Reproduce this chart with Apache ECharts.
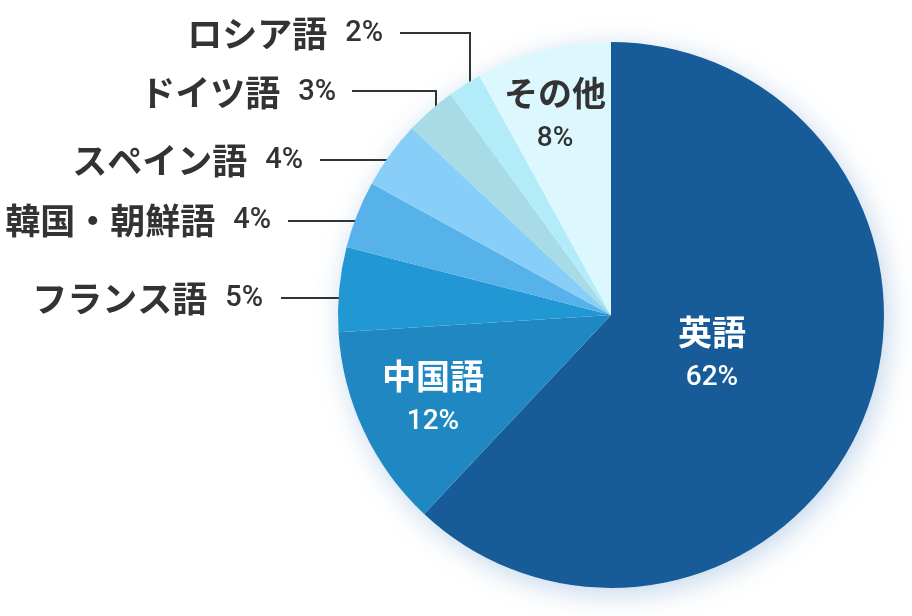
<!DOCTYPE html>
<html><head><meta charset="utf-8">
<script src="https://cdn.jsdelivr.net/npm/echarts@6/dist/echarts.min.js"></script>
<style>html,body{margin:0;padding:0;background:#fff}#c{width:912px;height:616px}</style>
</head><body><div id="c"></div>
<script>
const categories = ['英語','中国語','フランス語','韓国・朝鮮語','スペイン語','ドイツ語','ロシア語','その他'];
const values = [62, 12, 5, 4, 4, 3, 2, 8];
const colors = ['#175b99','#1f87c1','#2197d3','#56b2e8','#87cff8','#a7dbe5','#b3ecf9','#dcf7fe'];

// label layout (positions only)
const inside = {0:{x:712,y:355,c:'#fff'},1:{x:433,y:399,c:'#fff'},7:{x:555,y:116,c:'#333'}};
const outside = {
  2:{x:263,y:299,line:[[364,298],[364,298],[281,298]]},
  3:{x:271,y:221,line:[[373,221],[373,221],[288,221]]},
  4:{x:303,y:161,line:[[402,160],[402,160],[320,160]]},
  5:{x:336,y:93,line:[[436,126],[436,91],[352,91]]},
  6:{x:383,y:34,line:[[470,99],[470,33],[400,33]]}
};

const data = categories.map((n,i)=>{
  const d = {name:n, value:values[i], itemStyle:{color:colors[i]}};
  if (inside[i]) {
    d.label = {position:'inside', overflow:'none', formatter:'{n|{b}}\n{p|{c}%}', rich:{
      n:{fontFamily:'Noto Sans CJK JP',fontWeight:'bold',fontSize:34,color:inside[i].c,lineHeight:46,align:'center'},
      p:{fontFamily:'Roboto',fontWeight:500,fontSize:28,color:inside[i].c,lineHeight:46,align:'center'}}};
    d.labelLine = {show:false};
  } else {
    d.label = {position:'outside', overflow:'none', formatter:'{n|{b}}{p|{c}%}', rich:{
      n:{fontFamily:'Noto Sans CJK JP',fontWeight:'bold',fontSize:35,color:'#333',padding:[0,18,0,0]},
      p:{fontFamily:'Roboto',fontWeight:500,fontSize:29,color:'#333'}}};
    d.labelLine = {show:true, lineStyle:{color:'#333',width:2}};
  }
  return d;
});

const chart = echarts.init(document.getElementById('c'), null, {renderer:'canvas'});
chart.setOption({
  animation:false,
  backgroundColor:'#fff',
  series:[
    {type:'pie', silent:true, center:[611,315], radius:273, z:1,
     label:{show:false}, labelLine:{show:false},
     itemStyle:{color:'#fff', shadowBlur:28, shadowColor:'rgba(40,110,180,0.28)', shadowOffsetX:4, shadowOffsetY:6},
     data:[{value:1}]},
    {type:'pie', center:[611,315], radius:273, z:2, startAngle:90, clockwise:true,
     avoidLabelOverlap:false,
     itemStyle:{borderWidth:0},
     label:{show:true},
     labelLayout:function(p){
       const i = p.dataIndex;
       if (inside[i]) return {x:inside[i].x, y:inside[i].y, align:'center', verticalAlign:'middle'};
       const o = outside[i];
       return {x:o.x, y:o.y, align:'right', verticalAlign:'middle', labelLinePoints:o.line};
     },
     data:data}
  ]
});
</script></body></html>
